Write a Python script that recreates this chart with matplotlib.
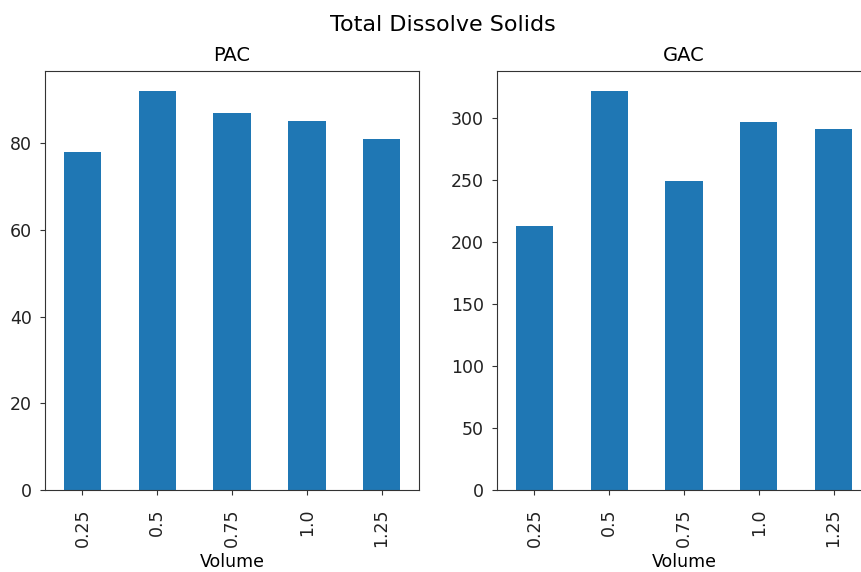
import numpy as np
import matplotlib.pyplot as plt

# Total dissolved solids by adsorbent volume
volume = ["0.25", "0.5", "0.75", "1.0", "1.25"]
pac_tds = [78, 92, 87, 85, 81]
gac_tds = [213, 322, 249, 297, 291]

W, H = 861, 572
fig = plt.figure(figsize=(W / 100, H / 100), dpi=100)

ax1 = fig.add_axes([45 / W, 82 / H, 374 / W, 419 / H])
ax2 = fig.add_axes([497 / W, 82 / H, 374 / W, 419 / H])

x = np.arange(len(volume))
for ax, vals, name in [(ax1, pac_tds, "PAC"), (ax2, gac_tds, "GAC")]:
    ax.bar(x, vals, width=0.5, color="#1f77b4")
    ax.set_xticks(x)
    ax.set_xticklabels(volume, rotation=90)
    ax.set_xlim(-0.5, len(volume) - 0.5)
    ax.set_ylim(0, max(vals) * 1.05)
    ax.set_xlabel("Volume", fontsize=12.5, labelpad=4)
    ax.set_title(name, fontsize=14, pad=7)
    ax.tick_params(labelsize=12.5, color="#333333", labelcolor="#222222")
    ax.tick_params(axis="x", pad=10)
    ax.tick_params(axis="y", pad=6)
    for s in ax.spines.values():
        s.set_color("#333333")

fig.suptitle("Total Dissolve Solids", fontsize=16, x=443 / W, y=1 - 25 / H, va="center")

fig.savefig("out.png", dpi=100)
